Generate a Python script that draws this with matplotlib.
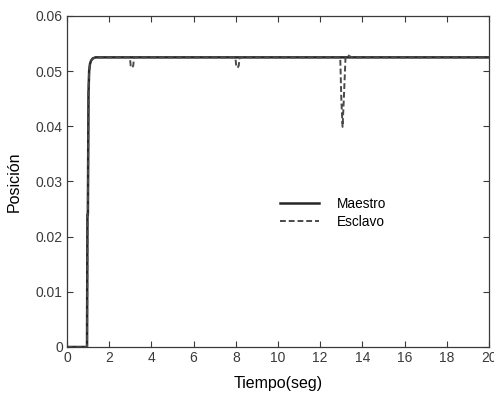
import matplotlib
matplotlib.use("Agg")
import matplotlib.pyplot as plt

plt.rcParams["font.family"] = ["Liberation Sans", "DejaVu Sans"]

# Respuesta del maestro (posición en m vs tiempo en s)
t_maestro = [0, 0.95, 0.97, 0.99, 1.02, 1.05, 1.09, 1.14, 1.22, 1.35, 20]
y_maestro = [0, 0, 0.024, 0.024, 0.046, 0.0500, 0.0513, 0.0519, 0.0523, 0.0525, 0.0525]

# Respuesta del esclavo con perturbaciones en t = 3, 8 y 13 s
t_esclavo = [0, 0.95, 0.97, 0.99, 1.02, 1.05, 1.09, 1.14, 1.22, 1.35,
             2.98, 3.02, 3.08, 3.14, 3.18,
             7.98, 8.02, 8.08, 8.14, 8.18,
             12.95, 13.0, 13.06, 13.12, 13.2, 13.3, 13.5, 20]
y_esclavo = [0, 0, 0.024, 0.024, 0.046, 0.0500, 0.0513, 0.0519, 0.0523, 0.0525,
             0.0525, 0.0510, 0.0506, 0.0510, 0.0525,
             0.0525, 0.0510, 0.0506, 0.0510, 0.0525,
             0.0525, 0.045, 0.0399, 0.045, 0.0525, 0.0529, 0.0525, 0.0525]

x_ticks = [0, 2, 4, 6, 8, 10, 12, 14, 16, 18, 20]
y_ticks = [0, 0.01, 0.02, 0.03, 0.04, 0.05, 0.06]
y_labels = ["0", "0.01", "0.02", "0.03", "0.04", "0.05", "0.06"]

fig = plt.figure(figsize=(4.94, 3.94), dpi=100)
ax = fig.add_axes([0.1356, 0.1193, 0.8543, 0.8401])

ax.plot(t_maestro, y_maestro, color="#262626", lw=1.8, label="Maestro")
ax.plot(t_esclavo, y_esclavo, color="#4a4a4a", lw=1.4, ls=(0, (3, 1.5)),
        label="Esclavo")

ax.set_xlim(0, 20)
ax.set_ylim(0, 0.06)
ax.set_xticks(x_ticks)
ax.set_yticks(y_ticks)
ax.set_yticklabels(y_labels)
ax.tick_params(direction="in", top=True, right=True, length=4,
               labelsize=10, colors="#3a3a3a", width=0.8, pad=3)
for s in ax.spines.values():
    s.set_color("#3a3a3a")
    s.set_linewidth(0.9)

ax.set_xlabel("Tiempo(seg)", fontsize=11.5, labelpad=8)
ax.set_ylabel("Posición", fontsize=11.5, labelpad=10)

ax.legend(loc="center left", bbox_to_anchor=(0.475, 0.405), frameon=False,
          fontsize=9.8, handlelength=2.9, labelspacing=0.3, handletextpad=1.3)

fig.savefig("out.png", dpi=100)
